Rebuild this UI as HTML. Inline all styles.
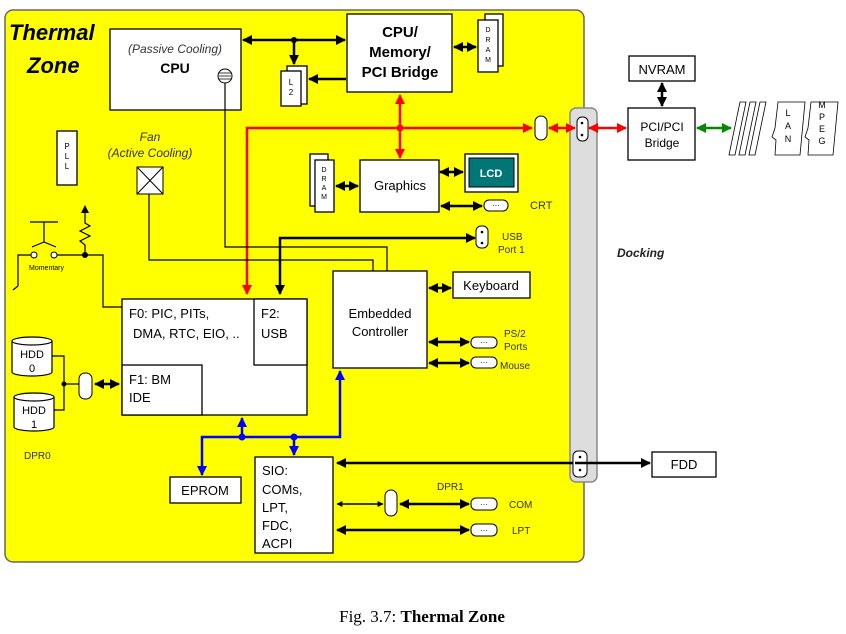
<!DOCTYPE html>
<html><head><meta charset="utf-8"><style>
body{margin:0;background:#fff;width:846px;height:629px;overflow:hidden}
svg{font-family:"Liberation Sans",sans-serif}
.b{fill:#fff;stroke:#000;stroke-width:1.3}
</style></head><body>
<svg width="846" height="629" viewBox="0 0 846 629">
<defs>
<marker id="a" viewBox="0 0 10 10" refX="9" refY="5" markerWidth="4" markerHeight="4" orient="auto-start-reverse"><path d="M0,0L10,5L0,10z" fill="#000"/></marker>
<marker id="r" viewBox="0 0 10 10" refX="9" refY="5" markerWidth="4" markerHeight="4" orient="auto-start-reverse"><path d="M0,0L10,5L0,10z" fill="#f00"/></marker>
<marker id="u" viewBox="0 0 10 10" refX="9" refY="5" markerWidth="4" markerHeight="4" orient="auto-start-reverse"><path d="M0,0L10,5L0,10z" fill="#00f"/></marker>
<marker id="g" viewBox="0 0 10 10" refX="9" refY="5" markerWidth="4" markerHeight="4" orient="auto-start-reverse"><path d="M0,0L10,5L0,10z" fill="#080"/></marker>
</defs>
<rect x="5" y="10" width="579" height="552" rx="8" fill="#ff0" stroke="#666" stroke-width="1.5"/>
<rect x="570" y="108" width="27" height="374" rx="6" fill="#ddd" stroke="#888" stroke-width="1.5"/>
<text x="9" y="40" font-size="22" font-weight="bold" font-style="italic">Thermal</text>
<text x="27" y="73" font-size="22" font-weight="bold" font-style="italic">Zone</text>
<!-- CPU -->
<rect class="b" x="110" y="29" width="131" height="81"/>
<text x="175" y="53" font-size="12" font-style="italic" text-anchor="middle" fill="#333">(Passive Cooling)</text>
<text x="175" y="73" font-size="14" font-weight="bold" text-anchor="middle">CPU</text>
<circle cx="225" cy="76" r="7" fill="#fff" stroke="#000"/>
<path d="M219,73h12M219,76h12M219,79h12" stroke="#000" stroke-width="0.8"/>
<!-- bridge -->
<rect class="b" x="347" y="14" width="105" height="78"/>
<text x="400" y="37" font-size="15" font-weight="bold" text-anchor="middle">CPU/</text>
<text x="400" y="57" font-size="15" font-weight="bold" text-anchor="middle">Memory/</text>
<text x="400" y="77" font-size="15" font-weight="bold" text-anchor="middle">PCI Bridge</text>
<rect class="b" x="485" y="14" width="18" height="52"/>
<rect class="b" x="478" y="20" width="20" height="52"/>
<text x="488" y="32" font-size="7" text-anchor="middle">D</text><text x="488" y="42" font-size="7" text-anchor="middle">R</text><text x="488" y="52" font-size="7" text-anchor="middle">A</text><text x="488" y="62" font-size="7" text-anchor="middle">M</text>
<line x1="454" y1="47" x2="476" y2="47" stroke="#000" stroke-width="2.5" marker-start="url(#a)" marker-end="url(#a)"/>
<rect class="b" x="287" y="66" width="20" height="38"/>
<rect class="b" x="281" y="71" width="20" height="35"/>
<text x="291" y="85" font-size="8" text-anchor="middle">L</text><text x="291" y="95" font-size="8" text-anchor="middle">2</text>
<line x1="243" y1="40" x2="345" y2="40" stroke="#000" stroke-width="2.5" marker-start="url(#a)" marker-end="url(#a)"/>
<circle cx="294" cy="40" r="3"/>
<line x1="294" y1="40" x2="294" y2="64" stroke="#000" stroke-width="2.5" marker-end="url(#a)"/>
<line x1="346" y1="79" x2="309" y2="79" stroke="#000" stroke-width="2.5" marker-end="url(#a)"/>
<!-- red -->
<polyline points="532,128 247,128 247,294" fill="none" stroke="#f00" stroke-width="2.5" marker-start="url(#r)" marker-end="url(#r)"/>
<line x1="400" y1="95" x2="400" y2="158" stroke="#f00" stroke-width="2.5" marker-start="url(#r)" marker-end="url(#r)"/>
<circle cx="400" cy="128" r="3.5" fill="#f00"/>
<rect x="535" y="116" width="12" height="24" rx="6" fill="#fff" stroke="#000"/>
<line x1="549" y1="128" x2="575" y2="128" stroke="#f00" stroke-width="2.5" marker-start="url(#r)" marker-end="url(#r)"/>
<rect x="577" y="117" width="11" height="24" rx="5" fill="#fff" stroke="#000"/>
<circle cx="582" cy="123" r="1.3"/><circle cx="582" cy="135" r="1.3"/>
<line x1="589" y1="128" x2="626" y2="128" stroke="#f00" stroke-width="2.5" marker-start="url(#r)" marker-end="url(#r)"/>
<!-- right side -->
<rect class="b" x="629" y="56" width="66" height="25"/>
<text x="662" y="74" font-size="13" text-anchor="middle">NVRAM</text>
<rect class="b" x="628" y="108" width="67" height="52"/>
<text x="662" y="131" font-size="12" text-anchor="middle">PCI/PCI</text>
<text x="662" y="147" font-size="12" text-anchor="middle">Bridge</text>
<line x1="662" y1="83" x2="662" y2="106" stroke="#000" stroke-width="2.5" marker-start="url(#a)" marker-end="url(#a)"/>
<line x1="697" y1="128" x2="731" y2="128" stroke="#080" stroke-width="2.5" marker-start="url(#g)" marker-end="url(#g)"/>
<g fill="#fff" stroke="#000" stroke-width="0.8">
<polygon points="740,102 746,102 735,155 729,155"/><polygon points="750,102 756,102 745,155 739,155"/><polygon points="760,102 766,102 755,155 749,155"/>
<polygon points="778,102 805,102 800,155 775,155 776,140 772,137 775,128"/>
<polygon points="811,102 838,102 833,155 808,155 809,140 805,137 808,128"/>
</g>
<g font-size="9" text-anchor="middle"><text x="788" y="116">L</text><text x="788" y="129">A</text><text x="788" y="142">N</text>
<text x="822" y="108">M</text><text x="822" y="120">P</text><text x="822" y="132">E</text><text x="822" y="144">G</text></g>
<text x="617" y="257" font-size="12" font-weight="bold" font-style="italic" fill="#222">Docking</text>
<!-- graphics -->
<rect class="b" x="360" y="160" width="79" height="52"/>
<text x="400" y="190" font-size="13" text-anchor="middle">Graphics</text>
<rect class="b" x="310" y="154" width="18" height="52"/>
<rect class="b" x="315" y="160" width="19" height="52"/>
<g font-size="7" text-anchor="middle"><text x="324" y="172">D</text><text x="324" y="181">R</text><text x="324" y="190">A</text><text x="324" y="199">M</text></g>
<line x1="336" y1="186" x2="358" y2="186" stroke="#000" stroke-width="2.5" marker-start="url(#a)" marker-end="url(#a)"/>
<rect class="b" x="465" y="154" width="53" height="38"/>
<rect x="469" y="158" width="45" height="29" fill="#077" stroke="#000"/>
<text x="491" y="177" font-size="11" font-weight="bold" fill="#fff" text-anchor="middle">LCD</text>
<line x1="440" y1="172" x2="463" y2="172" stroke="#000" stroke-width="2.5" marker-start="url(#a)" marker-end="url(#a)"/>
<line x1="441" y1="206" x2="482" y2="206" stroke="#000" stroke-width="2.5" marker-start="url(#a)" marker-end="url(#a)"/>
<rect x="484" y="200" width="24" height="11" rx="5" fill="#fff" stroke="#000"/>
<text x="496" y="208" font-size="8" text-anchor="middle">···</text>
<text x="530" y="209" font-size="11" fill="#333">CRT</text>
<!-- USB -->
<polyline points="280,294 280,238 475,238" fill="none" stroke="#000" stroke-width="2.5" marker-start="url(#a)" marker-end="url(#a)"/>
<rect x="476" y="226" width="12" height="22" rx="5" fill="#fff" stroke="#000"/>
<circle cx="482" cy="232" r="1.3"/><circle cx="482" cy="243" r="1.3"/>
<text x="502" y="240" font-size="10" fill="#333">USB</text><text x="498" y="253" font-size="10" fill="#333">Port 1</text>
<!-- fan & wires -->
<text x="150" y="141" font-size="12" font-style="italic" text-anchor="middle" fill="#333">Fan</text>
<text x="150" y="157" font-size="12" font-style="italic" text-anchor="middle" fill="#333">(Active Cooling)</text>
<rect x="137" y="167" width="26" height="27" fill="#fff" stroke="#000"/>
<path d="M137,167L163,194M163,167L137,194" stroke="#000"/>
<polyline points="225,83 225,247 387,247 387,271" fill="none" stroke="#000" stroke-width="1.2"/>
<polyline points="149,194 149,260 373,260 373,271" fill="none" stroke="#000" stroke-width="1.2"/>
<rect class="b" x="57" y="131" width="20" height="54"/>
<g font-size="8" text-anchor="middle"><text x="67" y="149">P</text><text x="67" y="159">L</text><text x="67" y="169">L</text></g>
<!-- switch -->
<g stroke="#000" stroke-width="1.2" fill="none">
<path d="M30,222h28M44,222v20M32,247l12,-5l12,5"/>
<polyline points="32,255 18,255 18,286"/>
<path d="M18,286l-5,4"/>
<polyline points="55,255 103,255 103,307 122,307"/>
<path d="M85,255v-10l-5,-4l10,-5l-10,-5l10,-5l-5,-3v-12"/>
</g>
<path d="M81,213l4,-8l4,8z"/>
<circle cx="34" cy="255" r="3" fill="#fff" stroke="#000"/><circle cx="54" cy="255" r="3" fill="#fff" stroke="#000"/>
<circle cx="85" cy="255" r="3"/>
<text x="29" y="270" font-size="7">Momentary</text>
<!-- F0 -->
<rect class="b" x="122" y="299" width="185" height="116"/>
<rect class="b" x="254" y="299" width="53" height="66"/>
<rect class="b" x="122" y="365" width="80" height="50"/>
<text x="129" y="318" font-size="13">F0:  PIC, PITs,</text>
<text x="133" y="338" font-size="13">DMA, RTC, EIO, ..</text>
<text x="261" y="318" font-size="13">F2:</text><text x="261" y="338" font-size="13">USB</text>
<text x="129" y="384" font-size="13">F1:  BM</text><text x="129" y="402" font-size="13">IDE</text>
<!-- EC -->
<rect class="b" x="333" y="271" width="94" height="97"/>
<text x="380" y="318" font-size="13" text-anchor="middle">Embedded</text>
<text x="380" y="336" font-size="13" text-anchor="middle">Controller</text>
<rect class="b" x="453" y="272" width="77" height="26"/>
<text x="491" y="290" font-size="13" text-anchor="middle">Keyboard</text>
<line x1="429" y1="288" x2="451" y2="288" stroke="#000" stroke-width="2.5" marker-start="url(#a)" marker-end="url(#a)"/>
<line x1="429" y1="342" x2="469" y2="342" stroke="#000" stroke-width="2.5" marker-start="url(#a)" marker-end="url(#a)"/>
<line x1="429" y1="363" x2="469" y2="363" stroke="#000" stroke-width="2.5" marker-start="url(#a)" marker-end="url(#a)"/>
<rect x="471" y="337" width="26" height="11" rx="5" fill="#fff" stroke="#000"/><text x="484" y="345" font-size="8" text-anchor="middle">···</text>
<rect x="471" y="357" width="26" height="11" rx="5" fill="#fff" stroke="#000"/><text x="484" y="365" font-size="8" text-anchor="middle">···</text>
<text x="504" y="337" font-size="10" fill="#333">PS/2</text><text x="504" y="350" font-size="10" fill="#333">Ports</text>
<text x="500" y="369" font-size="10" fill="#333">Mouse</text>
<!-- HDD -->
<g fill="#fff" stroke="#000" stroke-width="1.2">
<path d="M12,341v31a20,4 0 0 0 40,0v-31"/><ellipse cx="32" cy="341" rx="20" ry="4"/>
<path d="M14,397v30a20,4 0 0 0 40,0v-30"/><ellipse cx="34" cy="397" rx="20" ry="4"/>
</g>
<text x="32" y="358" font-size="11" text-anchor="middle">HDD</text><text x="32" y="372" font-size="11" text-anchor="middle">0</text>
<text x="34" y="414" font-size="11" text-anchor="middle">HDD</text><text x="34" y="428" font-size="11" text-anchor="middle">1</text>
<polyline points="52,356 64,356 64,410 54,410" fill="none" stroke="#000" stroke-width="1.2"/>
<line x1="64" y1="384" x2="79" y2="384" stroke="#000" stroke-width="1.2"/>
<circle cx="64" cy="384" r="2.5"/>
<rect x="79" y="373" width="13" height="26" rx="6" fill="#fff" stroke="#000"/>
<line x1="95" y1="384" x2="119" y2="384" stroke="#000" stroke-width="2.5" marker-start="url(#a)" marker-end="url(#a)"/>
<text x="24" y="459" font-size="10" fill="#333">DPR0</text>
<!-- blue -->
<polyline points="202,475 202,437 340,437 340,371" fill="none" stroke="#00f" stroke-width="2.5" marker-start="url(#u)" marker-end="url(#u)"/>
<line x1="242" y1="437" x2="242" y2="418" stroke="#00f" stroke-width="2.5" marker-end="url(#u)"/>
<line x1="294" y1="437" x2="294" y2="455" stroke="#00f" stroke-width="2.5" marker-end="url(#u)"/>
<circle cx="242" cy="437" r="3.5" fill="#00f"/><circle cx="294" cy="437" r="3.5" fill="#00f"/>
<rect class="b" x="170" y="477" width="71" height="26"/>
<text x="205" y="495" font-size="13" text-anchor="middle">EPROM</text>
<!-- SIO -->
<rect class="b" x="255" y="457" width="78" height="96"/>
<g font-size="13"><text x="262" y="475">SIO:</text><text x="262" y="494">COMs,</text><text x="262" y="512">LPT,</text><text x="262" y="530">FDC,</text><text x="262" y="548">ACPI</text></g>
<line x1="337" y1="463" x2="575" y2="463" stroke="#000" stroke-width="2.5" marker-start="url(#a)"/>
<rect x="573" y="451" width="14" height="26" rx="5" fill="#fff" stroke="#000"/>
<circle cx="580" cy="457" r="1.3"/><circle cx="580" cy="470" r="1.3"/>
<line x1="575" y1="463" x2="650" y2="463" stroke="#000" stroke-width="2.5" marker-end="url(#a)"/>
<rect class="b" x="652" y="452" width="64" height="25"/>
<text x="684" y="469" font-size="13" text-anchor="middle">FDD</text>
<text x="437" y="490" font-size="10" fill="#333">DPR1</text>
<line x1="337" y1="504" x2="383" y2="504" stroke="#000" stroke-width="1.5" marker-start="url(#a)" marker-end="url(#a)"/>
<rect x="385" y="490" width="12" height="26" rx="6" fill="#fff" stroke="#000"/>
<line x1="400" y1="504" x2="469" y2="504" stroke="#000" stroke-width="2.5" marker-start="url(#a)" marker-end="url(#a)"/>
<rect x="471" y="498" width="26" height="12" rx="5" fill="#fff" stroke="#000"/><text x="484" y="507" font-size="8" text-anchor="middle">···</text>
<text x="509" y="508" font-size="10" fill="#333">COM</text>
<line x1="337" y1="530" x2="469" y2="530" stroke="#000" stroke-width="2.5" marker-start="url(#a)" marker-end="url(#a)"/>
<rect x="471" y="524" width="26" height="12" rx="5" fill="#fff" stroke="#000"/><text x="484" y="533" font-size="8" text-anchor="middle">···</text>
<text x="512" y="534" font-size="10" fill="#333">LPT</text>
<text x="422" y="622" font-size="17" font-family="Liberation Serif, serif" text-anchor="middle">Fig. 3.7: <tspan font-weight="bold">Thermal Zone</tspan></text>
</svg>
</body></html>
